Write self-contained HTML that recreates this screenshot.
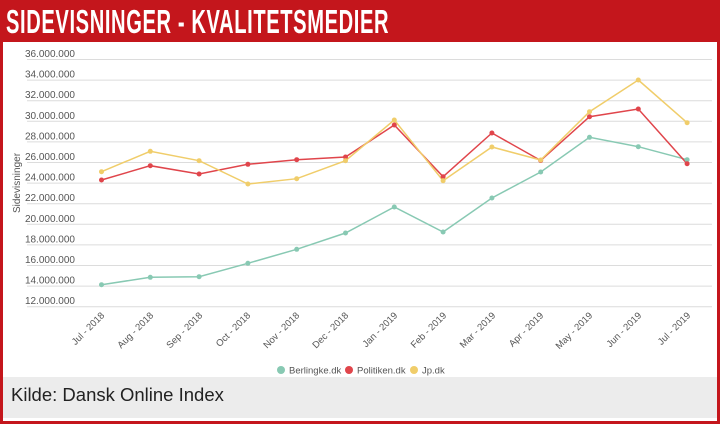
<!DOCTYPE html>
<html><head><meta charset="utf-8"><style>
body{margin:0;width:720px;height:424px;overflow:hidden;background:#fff;font-family:"Liberation Sans",sans-serif}
.frame{position:absolute;left:0;top:0;width:714px;height:418px;border:3px solid #c4161c;background:#fff}
.hdr{position:absolute;left:0;top:0;width:720px;height:42px;background:#c4161c}
.title{position:absolute;left:6px;top:3px;color:#fff;font-weight:bold;font-size:33px;transform:scaleX(0.61);transform-origin:left top;white-space:nowrap;letter-spacing:1px}
.foot{position:absolute;left:3px;top:377px;width:714px;height:41px;background:#ececec}
.foot span{position:absolute;left:8px;top:7px;font-size:18.5px;color:#222}
</style></head><body>
<div class="frame"></div>
<div class="hdr"><div class="title">SIDEVISNINGER - KVALITETSMEDIER</div></div>
<div class="foot"><span>Kilde: Dansk Online Index</span></div>
<svg width="720" height="424" style="position:absolute;left:0;top:0" font-family="Liberation Sans, sans-serif">
<g stroke="#dcdcdc" stroke-width="1">
<line x1="27" x2="712" y1="59.5" y2="59.5"/><line x1="27" x2="712" y1="80.1" y2="80.1"/><line x1="27" x2="712" y1="100.7" y2="100.7"/><line x1="27" x2="712" y1="121.3" y2="121.3"/><line x1="27" x2="712" y1="141.9" y2="141.9"/><line x1="27" x2="712" y1="162.5" y2="162.5"/><line x1="27" x2="712" y1="183.1" y2="183.1"/><line x1="27" x2="712" y1="203.7" y2="203.7"/><line x1="27" x2="712" y1="224.3" y2="224.3"/><line x1="27" x2="712" y1="244.9" y2="244.9"/><line x1="27" x2="712" y1="265.5" y2="265.5"/><line x1="27" x2="712" y1="286.1" y2="286.1"/><line x1="27" x2="712" y1="306.7" y2="306.7"/>
</g>
<g font-size="10" fill="#555" text-anchor="end">
<text x="75" y="57">36.000.000</text><text x="75" y="77.6">34.000.000</text><text x="75" y="98.2">32.000.000</text><text x="75" y="118.8">30.000.000</text><text x="75" y="139.4">28.000.000</text><text x="75" y="160">26.000.000</text><text x="75" y="180.6">24.000.000</text><text x="75" y="201.2">22.000.000</text><text x="75" y="221.8">20.000.000</text><text x="75" y="242.4">18.000.000</text><text x="75" y="263">16.000.000</text><text x="75" y="283.6">14.000.000</text><text x="75" y="304.2">12.000.000</text>
</g>
<text transform="translate(20,183) rotate(-90)" font-size="10" fill="#555" text-anchor="middle">Sidevisninger</text>
<g font-size="9.5" fill="#555" text-anchor="end">
<text transform="translate(105,316) rotate(-45)">Jul - 2018</text>
<text transform="translate(154,316) rotate(-45)">Aug - 2018</text>
<text transform="translate(203,316) rotate(-45)">Sep - 2018</text>
<text transform="translate(251,316) rotate(-45)">Oct - 2018</text>
<text transform="translate(300,316) rotate(-45)">Nov - 2018</text>
<text transform="translate(349,316) rotate(-45)">Dec - 2018</text>
<text transform="translate(398,316) rotate(-45)">Jan - 2019</text>
<text transform="translate(447,316) rotate(-45)">Feb - 2019</text>
<text transform="translate(496,316) rotate(-45)">Mar - 2019</text>
<text transform="translate(544,316) rotate(-45)">Apr - 2019</text>
<text transform="translate(593,316) rotate(-45)">May - 2019</text>
<text transform="translate(642,316) rotate(-45)">Jun - 2019</text>
<text transform="translate(691,316) rotate(-45)">Jul - 2019</text>
</g>
<g fill="none" stroke-width="1.5">
<polyline stroke="#88c9b3" points="101.5,284.7 150.3,277.3 199.1,276.7 247.9,263.3 296.7,249.3 345.5,233 394.3,207 443.1,232 491.9,198 540.7,172 589.5,137.3 638.3,146.7 687.1,159.7"/>
<polyline stroke="#e0454b" points="101.5,180 150.3,165.7 199.1,174 247.9,164.3 296.7,159.7 345.5,157 394.3,125 443.1,176.7 491.9,133 540.7,160.5 589.5,116.7 638.3,109 687.1,163.7"/>
<polyline stroke="#f0cd6a" points="101.5,171.7 150.3,151.3 199.1,160.7 247.9,184 296.7,178.7 345.5,160.7 394.3,120 443.1,180.7 491.9,147 540.7,160 589.5,111.7 638.3,80 687.1,122.7"/>
</g>
<g fill="#88c9b3"><circle cx="101.5" cy="284.7" r="2.5"/><circle cx="150.3" cy="277.3" r="2.5"/><circle cx="199.1" cy="276.7" r="2.5"/><circle cx="247.9" cy="263.3" r="2.5"/><circle cx="296.7" cy="249.3" r="2.5"/><circle cx="345.5" cy="233" r="2.5"/><circle cx="394.3" cy="207" r="2.5"/><circle cx="443.1" cy="232" r="2.5"/><circle cx="491.9" cy="198" r="2.5"/><circle cx="540.7" cy="172" r="2.5"/><circle cx="589.5" cy="137.3" r="2.5"/><circle cx="638.3" cy="146.7" r="2.5"/><circle cx="687.1" cy="159.7" r="2.5"/></g>
<g fill="#e0454b"><circle cx="101.5" cy="180" r="2.5"/><circle cx="150.3" cy="165.7" r="2.5"/><circle cx="199.1" cy="174" r="2.5"/><circle cx="247.9" cy="164.3" r="2.5"/><circle cx="296.7" cy="159.7" r="2.5"/><circle cx="345.5" cy="157" r="2.5"/><circle cx="394.3" cy="125" r="2.5"/><circle cx="443.1" cy="176.7" r="2.5"/><circle cx="491.9" cy="133" r="2.5"/><circle cx="540.7" cy="160.5" r="2.5"/><circle cx="589.5" cy="116.7" r="2.5"/><circle cx="638.3" cy="109" r="2.5"/><circle cx="687.1" cy="163.7" r="2.5"/></g>
<g fill="#f0cd6a"><circle cx="101.5" cy="171.7" r="2.5"/><circle cx="150.3" cy="151.3" r="2.5"/><circle cx="199.1" cy="160.7" r="2.5"/><circle cx="247.9" cy="184" r="2.5"/><circle cx="296.7" cy="178.7" r="2.5"/><circle cx="345.5" cy="160.7" r="2.5"/><circle cx="394.3" cy="120" r="2.5"/><circle cx="443.1" cy="180.7" r="2.5"/><circle cx="491.9" cy="147" r="2.5"/><circle cx="540.7" cy="160" r="2.5"/><circle cx="589.5" cy="111.7" r="2.5"/><circle cx="638.3" cy="80" r="2.5"/><circle cx="687.1" cy="122.7" r="2.5"/></g>
<g font-size="9.5" fill="#555">
<circle cx="281" cy="370" r="4" fill="#88c9b3"/><text x="289" y="373.5">Berlingke.dk</text>
<circle cx="349" cy="370" r="4" fill="#e0454b"/><text x="357" y="373.5">Politiken.dk</text>
<circle cx="414" cy="370" r="4" fill="#f0cd6a"/><text x="422" y="373.5">Jp.dk</text>
</g>
</svg>
</body></html>
